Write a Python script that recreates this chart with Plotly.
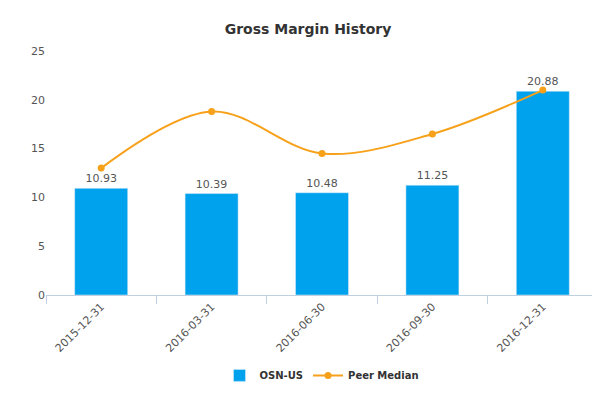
import plotly.graph_objects as go

dates = ["2015-12-31", "2016-03-31", "2016-06-30", "2016-09-30", "2016-12-31"]
osn_values = [10.93, 10.39, 10.48, 11.25, 20.88]
peer_median = [13.0, 18.8, 14.5, 16.5, 21.0]
y_ticks = [0, 5, 10, 15, 20, 25]

fig = go.Figure()
fig.add_trace(go.Bar(
    x=dates, y=osn_values, name="<b>OSN-US</b>",
    marker=dict(color="#00a2ed"), width=0.48,
    text=[f"{v:.2f}" for v in osn_values], textposition="outside",
    textfont=dict(size=11, color="#555555"), cliponaxis=False,
))
fig.add_trace(go.Scatter(
    x=dates, y=peer_median, name="<b>Peer Median</b>", mode="lines+markers",
    line=dict(color="#f7a11a", width=2, shape="spline", smoothing=1.0),
    marker=dict(color="#f7a11a", size=7),
))

fig.update_layout(
    width=600, height=400,
    title=dict(text="<b>Gross Margin History</b>", x=0.5, y=0.96,
               font=dict(size=14, color="#333333")),
    font=dict(family="DejaVu Sans", size=11, color="#555555"),
    plot_bgcolor="white", paper_bgcolor="white",
    margin=dict(l=38, r=10, t=43, b=113),
    bargap=0.5,
    showlegend=True,
    legend=dict(orientation="h", x=0.5, xanchor="center", y=-0.27,
                yanchor="top", font=dict(size=10, color="#333333")),
    xaxis=dict(type="category", tickangle=-45, showline=True,
               linecolor="#c0d0e0", ticks="outside", tickcolor="#c0d0e0",
               ticklen=8, tickson="boundaries", showgrid=False, automargin=False,
               tickfont=dict(size=11, color="#555555")),
    yaxis=dict(range=[0, 25], tickvals=y_ticks, showgrid=False, automargin=False,
               zeroline=False, showline=False,
               tickfont=dict(size=11, color="#555555")),
)
fig.add_annotation(text="www.capitalcube.com", xref="paper", yref="paper",
                   x=1.0, y=-0.43, xanchor="right", yanchor="top", showarrow=False,
                   font=dict(size=9, color="#888888"))

fig.write_html("out.html")
